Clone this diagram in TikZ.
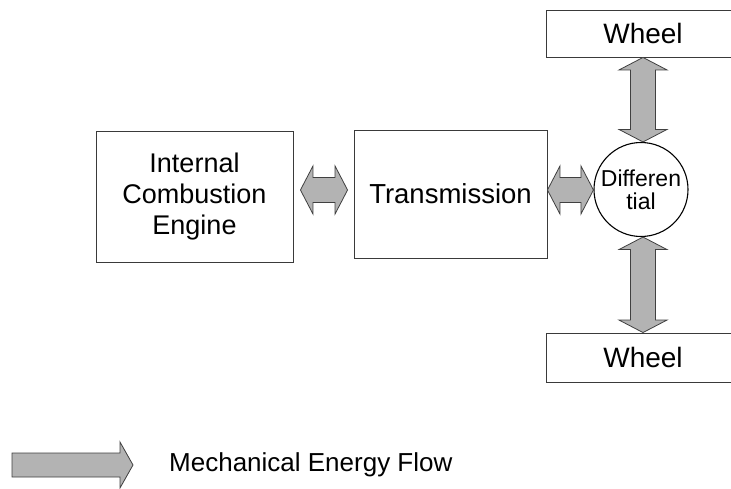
\documentclass[tikz,border=0pt]{standalone}
\usepackage{fontspec}
\setmainfont{Liberation Sans}
\usetikzlibrary{calc}
\definecolor{flowfill}{HTML}{B3B3B3}
\definecolor{flowline}{HTML}{404040}
\definecolor{boxline}{HTML}{3A3A3A}
\tikzset{
  blockbox/.style={draw=boxline, line width=0.9pt, fill=white, inner sep=0pt, align=center,
    font=\fontsize{27pt}{31pt}\selectfont},
  diffcircle/.style={draw=black, line width=1.1pt, circle, minimum size=94pt, inner sep=0pt, align=center,
    font=\fontsize{23pt}{23pt}\selectfont},
  flowarrow/.style={draw=flowline, fill=flowfill, line width=0.8pt, line join=miter},
}
% fat double arrow between two points
\newcommand\fatdouble[2]{%
  \draw[flowarrow] let \p1=(#1), \p2=(#2), \n1={atan2(\y2-\y1,\x2-\x1)}, \n2={veclen(\x2-\x1,\y2-\y1)} in
    [shift={(\p1)}, rotate=\n1]
    (0pt,0pt) -- (12.5pt,24pt) -- (12.5pt,12.5pt) -- (\n2-12.5pt,12.5pt) -- (\n2-12.5pt,24pt) -- (\n2,0pt)
    -- (\n2-12.5pt,-24pt) -- (\n2-12.5pt,-12.5pt) -- (12.5pt,-12.5pt) -- (12.5pt,-24pt) -- cycle;}
% fat single arrow between two points
\newcommand\fatsingle[2]{%
  \draw[flowarrow] let \p1=(#1), \p2=(#2), \n1={atan2(\y2-\y1,\x2-\x1)}, \n2={veclen(\x2-\x1,\y2-\y1)} in
    [shift={(\p1)}, rotate=\n1]
    (0pt,12pt) -- (\n2-13pt,12pt) -- (\n2-13pt,23pt) -- (\n2,0pt)
    -- (\n2-13pt,-23pt) -- (\n2-13pt,-12pt) -- (0pt,-12pt) -- cycle;}
\begin{document}
\begin{tikzpicture}[x=1pt,y=-1pt]
\useasboundingbox (0,0) rectangle (731,489);

\node[blockbox, minimum width=197pt, minimum height=131pt] (ice) at (194.5,196.5)
  {Internal\\Combustion\\Engine};
\node[blockbox, minimum width=193pt, minimum height=128pt, font=\fontsize{27.5pt}{31pt}\selectfont] (trans) at (450.5,194)
  {Transmission};
\node[diffcircle] (diff) at (641,189.5) {Differen\\tial};
\node[blockbox, minimum width=194pt, minimum height=47pt, font=\fontsize{28pt}{31pt}\selectfont] (wheeltop) at (643,33.5) {Wheel};
\node[blockbox, minimum width=194pt, minimum height=49pt, font=\fontsize{28pt}{31pt}\selectfont] (wheelbot) at (643,357.5) {Wheel};

% flow arrows
\coordinate (a1s) at ($(ice.east |- 0,190)+(7,0)$);
\coordinate (a1e) at ($(trans.west |- 0,190)+(-6,0)$);
\fatdouble{a1s}{a1e}
\coordinate (a2s) at (trans.east |- 0,190);
\coordinate (a2e) at (diff.west |- 0,190);
\fatdouble{a2s}{a2e}
\coordinate (a3e) at (wheeltop.south |- diff.north);
\fatdouble{wheeltop.south}{a3e}
\coordinate (a4s) at (wheelbot.north |- diff.south);
\fatdouble{a4s}{wheelbot.north}

% legend
\coordinate (l1) at (12,465);
\coordinate (l2) at (133,465);
\fatsingle{l1}{l2}
\node[anchor=west, inner sep=0pt, font=\fontsize{26pt}{30pt}\selectfont] (legend) at (169,465) {Mechanical Energy Flow};
\end{tikzpicture}
\end{document}
